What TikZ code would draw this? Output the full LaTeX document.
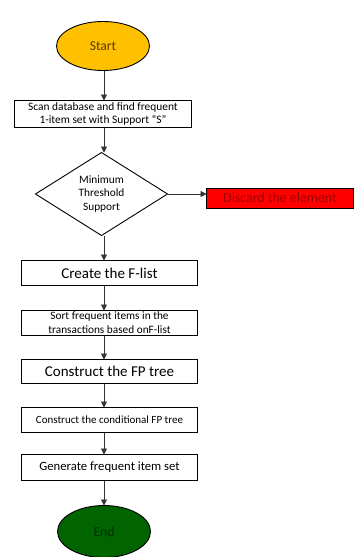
\documentclass[tikz,border=0pt]{standalone}
\usepackage{fontspec}
\setmainfont{Carlito}
\usetikzlibrary{
    positioning,      % relative placement of the steps
    shapes.geometric, % ellipse and diamond
    arrows.meta       % Triangle tips
}

\definecolor{startgold}{HTML}{FFC000}
\definecolor{starttext}{HTML}{5A3C00}
\definecolor{endgreen}{HTML}{006400}
\definecolor{endtext}{HTML}{003000}
\definecolor{discardred}{HTML}{FF0000}
\definecolor{discardtext}{HTML}{A00000}

\begin{document}
\begin{tikzpicture}[
    x=1pt, y=1pt,
    % Default spacing between steps
    node distance=25pt,
    % Style for the start and end ovals
    terminal/.style={
        ellipse, draw, line width=0.9pt,
        minimum width=93pt, minimum height=49pt,
        inner sep=0pt, outer sep=0pt,
        font=\fontsize{13.6}{16}\selectfont
    },
    % Style for the process boxes
    stepbox/.style={
        rectangle, draw, line width=1pt,
        minimum width=176pt, minimum height=25pt,
        inner sep=1pt, outer sep=0pt, align=center
    },
    % Style for the decision
    decision/.style={
        diamond, draw, line width=0.9pt, aspect=1.6,
        minimum width=132pt, minimum height=83pt,
        inner sep=1pt, outer sep=0pt, align=center,
        font=\fontsize{11.3}{13.5}\selectfont
    },
    % Style for the arrows
    flow/.style={
        draw=black!80, line width=0.6pt,
        -{Triangle[length=6pt, width=6pt]}
    }
]
    % frame of the picture
    \useasboundingbox (0,0) rectangle (355,-557);

    % 1. The steps, top to bottom.
    \node[terminal, fill=startgold, text=starttext] (start) at (103,-46) {Start};
    \node[stepbox, below=30pt of start, minimum width=177pt, minimum height=27pt,
          font=\fontsize{11.4}{12.5}\selectfont] (scan)
        {Scan database and find frequent\\1-item set with Support ``S''};
    \node[decision, below=25pt of scan, xshift=-1.5pt] (support) {Minimum\\Threshold\\Support};
    \node[stepbox, below=25pt of support, xshift=8pt, font=\fontsize{15}{18}\selectfont] (flist) {Create the F-list};
    \node[stepbox, below=of flist, font=\fontsize{11.3}{14}\selectfont] (sort)
        {Sort frequent items in the\\transactions based onF-list};
    \node[stepbox, below=24pt of sort, minimum height=24pt, font=\fontsize{15}{18}\selectfont] (fptree) {Construct the FP tree};
    \node[stepbox, below=24pt of fptree, font=\fontsize{11}{13}\selectfont] (condtree) {Construct the conditional FP tree};
    \node[stepbox, below=22pt of condtree, minimum height=26pt, font=\fontsize{12.7}{15}\selectfont] (generate) {Generate frequent item set};
    \node[terminal, below=25pt of generate, xshift=-5.5pt, minimum height=52pt,
          fill=endgreen, text=endtext] (finish) {End};

    % 2. The side branch.
    \node[rectangle, draw, line width=1pt, fill=discardred, text=discardtext,
          minimum width=147pt, minimum height=20pt, outer sep=0pt,
          font=\fontsize{13.9}{16}\selectfont, right=39pt of support, yshift=-4pt] (discard) {Discard the element};

    % 3. The arrows, all on one vertical line.
    \coordinate (axis) at (104,0);
    \draw[flow] (axis |- start.south) -- (axis |- scan.north);
    \draw[flow] (axis |- scan.south) -- (axis |- support.north);
    \draw[flow] (axis |- support.south) -- (axis |- flist.north);
    \draw[flow] (axis |- flist.south) -- (axis |- sort.north);
    \draw[flow] (axis |- sort.south) -- (axis |- fptree.north);
    \draw[flow] (axis |- fptree.south) -- (axis |- condtree.north);
    \draw[flow] (axis |- condtree.south) -- (axis |- generate.north);
    \draw[flow] (axis |- generate.south) -- (axis |- finish.north);
    \draw[flow] (support.east) -- (support.east -| discard.west);

\end{tikzpicture}
\end{document}
